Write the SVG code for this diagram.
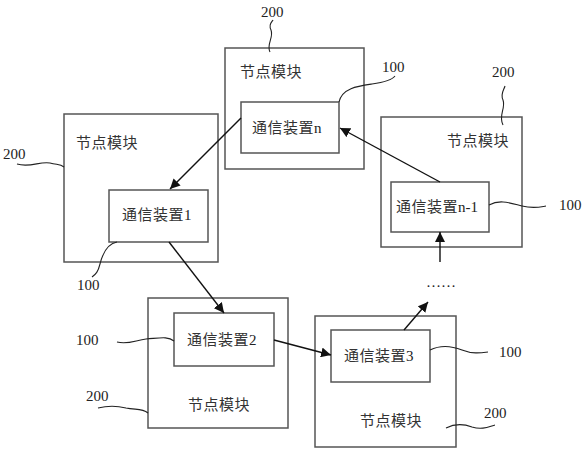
<svg xmlns="http://www.w3.org/2000/svg" width="586" height="450" viewBox="0 0 586 450">
<defs>
<marker id="ah" viewBox="0 0 10 10" refX="10" refY="5" markerWidth="10" markerHeight="10" markerUnits="userSpaceOnUse" orient="auto">
<path d="M0,0 L10,5 L0,10 z" fill="#111"/>
</marker>
<style>
.box{fill:#fff;stroke:#555;stroke-width:1.5}
.cn{font-family:"Noto Sans CJK SC","Noto Sans CJK JP",sans-serif;font-size:15px;letter-spacing:0.5px;fill:#333}
.num{font-family:"Liberation Serif",serif;font-size:15px;letter-spacing:0;fill:#222}
.lead{fill:none;stroke:#222;stroke-width:1.1}
.conn{fill:none;stroke:#111;stroke-width:1.4;marker-end:url(#ah)}
</style>
</defs>
<rect width="586" height="450" fill="#fff"/>

<g id="node-n">
<rect class="box" x="225" y="48" width="139" height="121"/>
<text class="cn" x="240" y="77">节点模块</text>
<rect class="box" x="241" y="102" width="98" height="51"/>
<text class="cn" x="252" y="133">通信装置<tspan class="num">n</tspan></text>
<text class="num" x="261" y="17">200</text>
<path class="lead" d="M270,52 C266,44 274,38 271,30 C268,24 272,22 273,20"/>
<text class="num" x="382" y="72">100</text>
<path class="lead" d="M339,102 C342,88 358,86 372,84 C386,82 392,80 395,76"/>
</g>

<g id="node-1">
<rect class="box" x="64" y="114" width="154" height="148"/>
<text class="cn" x="76" y="148">节点模块</text>
<rect class="box" x="109" y="190" width="99" height="52"/>
<text class="cn" x="122" y="220">通信装置<tspan class="num">1</tspan></text>
<text class="num" x="3" y="159">200</text>
<path class="lead" d="M17,164 C30,168 40,161 50,163 C58,165 60,164 64,167"/>
<text class="num" x="77" y="290">100</text>
<path class="lead" d="M117,242 C106,244 102,256 100,264 C98,272 96,274 92,277"/>
</g>

<g id="node-n1">
<rect class="box" x="381" y="117" width="141" height="130"/>
<text class="cn" x="447" y="146">节点模块</text>
<rect class="box" x="391" y="182" width="98" height="50"/>
<text class="cn" x="396" y="212">通信装置<tspan class="num">n-1</tspan></text>
<text class="num" x="492" y="77">200</text>
<path class="lead" d="M503,125 C498,116 506,108 503,100 C500,94 504,90 505,86"/>
<text class="num" x="559" y="210">100</text>
<path class="lead" d="M489,205 C500,199 510,203 522,206 C534,209 540,207 546,206"/>
<text class="num" x="426" y="287">……</text>
</g>

<g id="node-2">
<rect class="box" x="148" y="298" width="140" height="130"/>
<text class="cn" x="188" y="410">节点模块</text>
<rect class="box" x="174" y="313" width="100" height="53"/>
<text class="cn" x="187" y="345">通信装置<tspan class="num">2</tspan></text>
<text class="num" x="76" y="345">100</text>
<path class="lead" d="M117,342 C128,345 136,340 146,339 C160,338 168,336 174,341"/>
<text class="num" x="86" y="401">200</text>
<path class="lead" d="M98,408 C110,405 118,406 126,408 C136,410 142,408 148,413"/>
</g>

<g id="node-3">
<rect class="box" x="315" y="316" width="141" height="131"/>
<text class="cn" x="360" y="426">节点模块</text>
<rect class="box" x="331" y="330" width="99" height="52"/>
<text class="cn" x="344" y="361">通信装置<tspan class="num">3</tspan></text>
<text class="num" x="499" y="357">100</text>
<path class="lead" d="M430,350 C440,345 452,346 462,350 C472,354 480,353 488,352"/>
<text class="num" x="484" y="418">200</text>
<path class="lead" d="M446,428 C456,423 464,424 472,427 C482,430 488,427 495,425"/>
</g>

<g id="connectors">
<line class="conn" x1="241" y1="118" x2="170" y2="189"/>
<line class="conn" x1="440" y1="182" x2="340" y2="128"/>
<line class="conn" x1="169" y1="242" x2="224" y2="313"/>
<line class="conn" x1="274" y1="340" x2="331" y2="355"/>
<line class="conn" x1="404" y1="330" x2="428" y2="302"/>
<line class="conn" x1="440" y1="262" x2="440" y2="232"/>
</g>
</svg>
